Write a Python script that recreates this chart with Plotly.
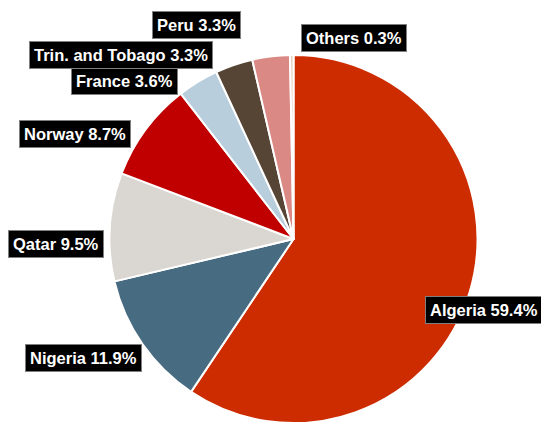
import plotly.graph_objects as go

# ---- data ----
countries = ["Algeria", "Nigeria", "Qatar", "Norway", "France",
             "Trin. and Tobago", "Peru", "Others"]
shares = [59.4, 11.9, 9.5, 8.7, 3.6, 3.3, 3.3, 0.3]

# ---- style ----
colors = ["#CD2C00", "#476B80", "#DAD7D2", "#C00000", "#B8CEDC",
          "#564535", "#DB8985", "#E2CDB8"]
W, H = 541, 423
# label box centres in pixels (layout only)
label_px = [(484, 310), (83, 358), (56, 243.5), (74.5, 134), (124.5, 80.5),
            (121, 55), (196.5, 24.5), (354, 38.5)]

cx, cy, R = 293.5, 239.0, 184.0  # pie centre / radius in px

fig = go.Figure(go.Pie(
    labels=countries,
    values=shares,
    sort=False,
    direction="clockwise",
    rotation=0,
    marker=dict(colors=colors, line=dict(color="white", width=2)),
    textinfo="none",
    hoverinfo="label+percent",
    showlegend=False,
    domain=dict(x=[(cx - R) / W, (cx + R) / W],
                y=[(H - cy - R) / H, (H - cy + R) / H]),
))

annotations = []
for name, val, (px, py) in zip(countries, shares, label_px):
    annotations.append(dict(
        text=f"<b>{name} {val:.1f}%</b>",
        x=px / W, y=1 - py / H, xref="paper", yref="paper",
        xanchor="center", yanchor="middle", showarrow=False,
        font=dict(family="Arial, Liberation Sans, sans-serif", size=16.5, color="white"),
        bgcolor="black", bordercolor="#7F7F7F", borderwidth=1, borderpad=4,
    ))

fig.update_layout(
    width=W, height=H,
    margin=dict(l=0, r=0, t=0, b=0),
    paper_bgcolor="white", plot_bgcolor="white",
    annotations=annotations,
)

fig.write_html("out.html", config={"displayModeBar": False},
               post_script="document.body.style.margin='0px';")
